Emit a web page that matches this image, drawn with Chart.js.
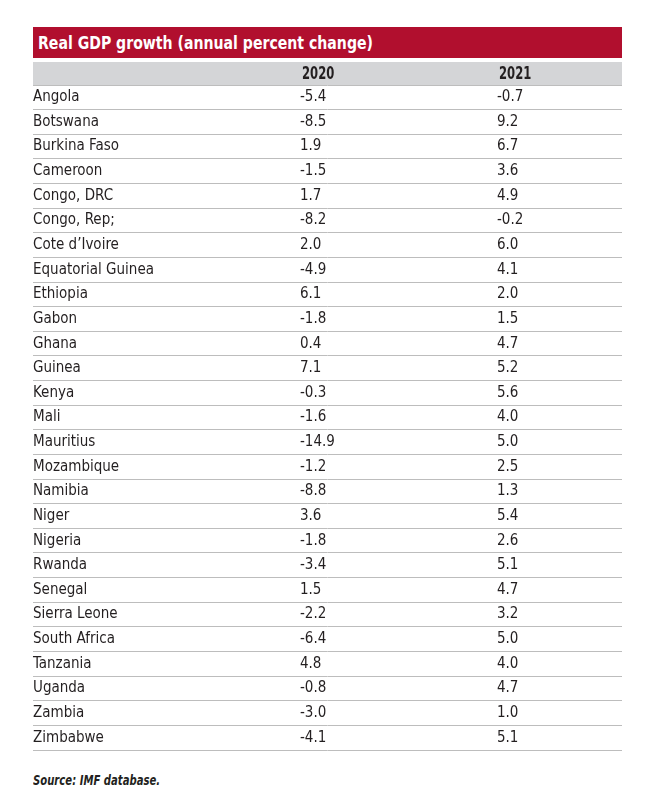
<!DOCTYPE html>
<html>
<head>
<meta charset="utf-8">
<script src="https://cdn.jsdelivr.net/npm/chart.js@4.4.1/dist/chart.umd.min.js"></script>
<style>
  body { margin: 0; background: #fff; width: 652px; height: 812px; position: relative; overflow: hidden; }
  .title {
    position: absolute; left: 33px; top: 27px; width: 589px; height: 31px;
    background: #b10f2e; color: #fff;
    font: bold 18px "Liberation Sans Narrow", "DejaVu Sans Condensed", sans-serif;
    line-height: 31px; padding-left: 5px; box-sizing: border-box; white-space: nowrap;
  }
  .title span, .source span { display: inline-block; transform-origin: left center; }
  .title span { transform: scaleX(0.87); }
  .wrap { position: absolute; left: 0; top: 60px; width: 652px; height: 700px; }
  .source {
    position: absolute; left: 33px; top: 772px; white-space: nowrap;
    font: italic bold 14px "Liberation Sans Narrow", "DejaVu Sans Condensed", sans-serif;
    color: #231f20;
  }
  .source span { transform: scaleX(0.8); }
</style>
</head>
<body>
<div class="title"><span>Real GDP growth (annual percent change)</span></div>
<div class="wrap"><canvas id="tableChart"></canvas></div>
<div class="source"><span>Source: IMF database.</span></div>

<script>
const years = ['2020', '2021'];
const countries = [
    'Angola', 'Botswana', 'Burkina Faso', 'Cameroon', 'Congo, DRC', 'Congo, Rep;',
    'Cote d\u2019Ivoire', 'Equatorial Guinea', 'Ethiopia', 'Gabon', 'Ghana', 'Guinea',
    'Kenya', 'Mali', 'Mauritius', 'Mozambique', 'Namibia', 'Niger', 'Nigeria',
    'Rwanda', 'Senegal', 'Sierra Leone', 'South Africa', 'Tanzania', 'Uganda',
    'Zambia', 'Zimbabwe'
];
const growth2020 = [-5.4, -8.5, 1.9, -1.5, 1.7, -8.2, 2.0, -4.9, 6.1, -1.8, 0.4, 7.1,
    -0.3, -1.6, -14.9, -1.2, -8.8, 3.6, -1.8, -3.4, 1.5, -2.2, -6.4, 4.8, -0.8, -3.0, -4.1];
const growth2021 = [-0.7, 9.2, 6.7, 3.6, 4.9, -0.2, 6.0, 4.1, 2.0, 1.5, 4.7, 5.2,
    5.6, 4.0, 5.0, 2.5, 1.3, 5.4, 2.6, 5.1, 4.7, 3.2, 5.0, 4.0, 4.7, 1.0, 5.1];

const textColor = '#231f20';
const fontFamily = '"Liberation Sans Narrow", "DejaVu Sans Condensed", sans-serif';
const cellFont = '15px ' + fontFamily;
const headFont = 'bold 17px ' + fontFamily;

// column k (1-based) sits at x = k on the linear scale
function columnData(values, col) {
    return values.map((v, i) => ({ x: col, y: countries[i], v: v }));
}

// gray header band + year labels, placed from the x scale
const headerPlugin = {
    id: 'headerBand',
    beforeDraw(chart) {
        const ctx = chart.ctx;
        const area = chart.chartArea;
        const xs = chart.scales.x;
        ctx.save();
        ctx.fillStyle = '#d4d5d7';
        ctx.fillRect(area.left, 2, area.right - area.left, area.top - 2);
        ctx.fillStyle = textColor;
        ctx.font = headFont;
        ctx.textAlign = 'left';
        ctx.textBaseline = 'middle';
        years.forEach((yr, i) => {
            ctx.save();
            ctx.translate(xs.getPixelForValue(i + 1) + 2, 2 + (area.top - 2) / 2 + 1);
            ctx.scale(0.76, 1);
            ctx.fillText(yr, 0, 0);
            ctx.restore();
        });
        ctx.restore();
    }
};

// write each value at its point position
const cellPlugin = {
    id: 'cellText',
    afterDatasetsDraw(chart) {
        const ctx = chart.ctx;
        ctx.save();
        ctx.fillStyle = textColor;
        ctx.font = cellFont;
        ctx.textAlign = 'left';
        ctx.textBaseline = 'middle';
        chart.data.datasets.forEach((ds, di) => {
            const meta = chart.getDatasetMeta(di);
            meta.data.forEach((pt, i) => {
                ctx.fillText(ds.data[i].v.toFixed(1), pt.x, pt.y);
            });
        });
        ctx.restore();
    }
};

const ctx = document.getElementById('tableChart').getContext('2d');
new Chart(ctx, {
    type: 'scatter',
    data: {
        datasets: [
            { label: years[0], data: columnData(growth2020, 1), pointRadius: 0, pointHoverRadius: 0 },
            { label: years[1], data: columnData(growth2021, 2), pointRadius: 0, pointHoverRadius: 0 }
        ]
    },
    options: {
        responsive: true,
        maintainAspectRatio: false,
        animation: false,
        events: [],
        layout: { padding: { top: 25, left: 33, right: 30, bottom: 10 } },
        scales: {
            x: {
                type: 'linear',
                display: false,
                min: -0.3553,
                max: 2.6345
            },
            y: {
                type: 'category',
                labels: countries,
                offset: true,
                border: { display: false },
                grid: {
                    offset: true,
                    drawTicks: false,
                    color: '#bdbdbd',
                    lineWidth: 1
                },
                ticks: {
                    mirror: true,
                    padding: 0,
                    color: textColor,
                    font: { family: fontFamily, size: 15 },
                    autoSkip: false
                }
            }
        },
        plugins: {
            legend: { display: false },
            tooltip: { enabled: false }
        }
    },
    plugins: [headerPlugin, cellPlugin]
});
</script>
</body>
</html>
